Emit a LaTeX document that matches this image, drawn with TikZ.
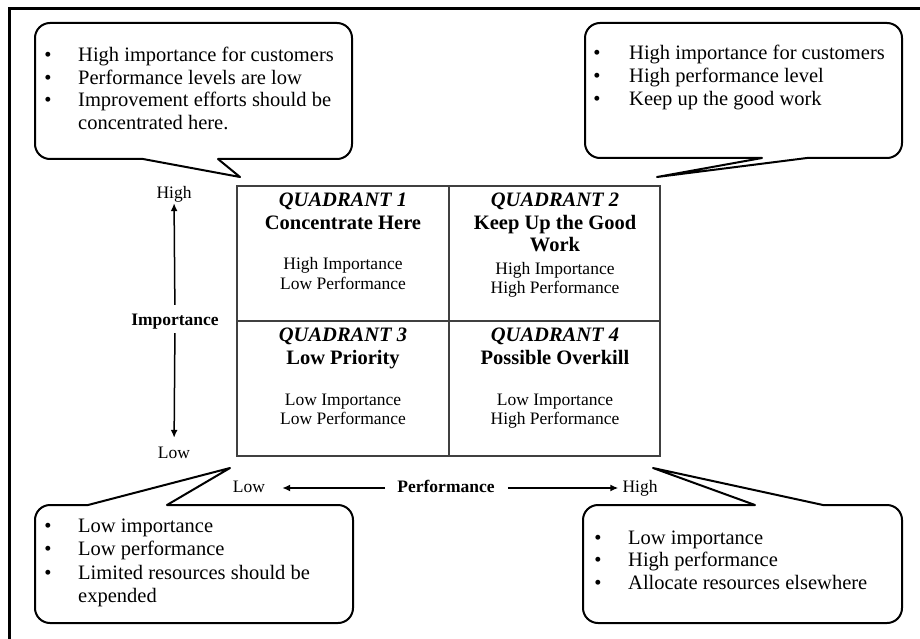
\documentclass[tikz,border=0pt]{standalone}
\usepackage{fontspec}
\setmainfont{Liberation Serif}
\usetikzlibrary{arrows.meta}
\begin{document}
\begin{tikzpicture}[x=1pt,y=-1pt,
  callout/.style={draw=black, line width=2pt, fill=white, line join=round},
  gridline/.style={draw=black!75, line width=1.4pt},
  bodytxt/.style={anchor=base west, inner sep=0pt, font=\fontsize{20.5}{22.5}\selectfont},
  bullettxt/.style={anchor=base, inner sep=0pt, font=\fontsize{20.5}{22}\selectfont},
  qtitle/.style={anchor=base, inner sep=0pt, font=\fontsize{20.5}{22}\selectfont\bfseries\itshape},
  qhead/.style={anchor=base, inner sep=0pt, font=\fontsize{20.5}{22}\selectfont\bfseries},
  qline/.style={anchor=base, inner sep=0pt, font=\fontsize{17.5}{19}\selectfont},
  axislbl/.style={anchor=base, inner sep=0pt, text height=12pt, text depth=4pt, font=\fontsize{17.5}{19}\selectfont},
  axisarrow/.style={line width=1.5pt, -{Latex[length=8pt,width=7pt]}},
]
\useasboundingbox (0,0) rectangle (920,639);
\fill[white] (0,0) rectangle (920,639);

% outer frame
\draw[line width=3pt] (9,9) rectangle (940,660);

% importance / performance grid
\draw[gridline] (237,186) rectangle (660,456);
\draw[gridline] (449,186) -- (449,456);
\draw[gridline] (237,321) -- (660,321);

% quadrant 1
\node[qtitle] (q1t) at (343,206.5) {QUADRANT 1};
\node[qhead]  (q1h) at (343,229) {Concentrate Here};
\node[qline]  (q1a) at (343,269) {High Importance};
\node[qline]  (q1b) at (343,289) {Low Performance};
% quadrant 2
\node[qtitle] (q2t) at (555,206.5) {QUADRANT 2};
\node[qhead]  (q2h) at (555,229) {Keep Up the Good};
\node[qhead]  (q2w) at (555,251.5) {Work};
\node[qline]  (q2a) at (555,274) {High Importance};
\node[qline]  (q2b) at (555,293) {High Performance};
% quadrant 3
\node[qtitle] (q3t) at (343,341.5) {QUADRANT 3};
\node[qhead]  (q3h) at (343,364.5) {Low Priority};
\node[qline]  (q3a) at (343,405) {Low Importance};
\node[qline]  (q3b) at (343,424) {Low Performance};
% quadrant 4
\node[qtitle] (q4t) at (555,341.5) {QUADRANT 4};
\node[qhead]  (q4h) at (555,364.5) {Possible Overkill};
\node[qline]  (q4a) at (555,405) {Low Importance};
\node[qline]  (q4b) at (555,424) {High Performance};

% vertical axis
\node[axislbl] (impHigh) at (174,198) {High};
\node[axislbl, font=\fontsize{17.5}{19}\selectfont\bfseries] (imp) at (175,325) {Importance};
\node[axislbl] (impLow) at (174,458) {Low};
\draw[axisarrow, shorten <=8pt, shorten >=1pt] (imp) -- (impHigh);
\draw[axisarrow, shorten <=4pt, shorten >=8pt] (imp) -- (impLow);

% horizontal axis
\node[axislbl] (perfLow) at (249,492) {Low};
\node[axislbl, font=\fontsize{17.5}{19}\selectfont\bfseries] (perf) at (446,492) {Performance};
\node[axislbl] (perfHigh) at (640,492) {High};
\draw[axisarrow, shorten <=12pt, shorten >=17pt] (perf) -- (perfLow);
\draw[axisarrow, shorten <=13pt, shorten >=4pt] (perf) -- (perfHigh);

% callout, top left
\draw[callout] (35,90) [rounded corners=15pt] -- (35,23) -- (352,23) -- (352,159)
  [sharp corners] -- (218,159) -- (240,177) -- (143,159)
  [rounded corners=15pt] -- (35,159) -- cycle;
\node[bullettxt] (c1b1) at (48,62) {•};
\node[bullettxt] (c1b2) at (48,84.5) {•};
\node[bullettxt] (c1b3) at (48,107) {•};
\node[bodytxt] (c1l1) at (78,62) {High importance for customers};
\node[bodytxt] (c1l2) at (78,84.5) {Performance levels are low};
\node[bodytxt] (c1l3) at (78,107) {Improvement efforts should be};
\node[bodytxt] (c1l4) at (78,129.5) {concentrated here.};

% callout, top right
\draw[callout] (585,90) [rounded corners=15pt] -- (585,23) -- (902,23) -- (902,158)
  [sharp corners] -- (807,158) -- (657,177) -- (762,158)
  [rounded corners=15pt] -- (585,158) -- cycle;
\node[bullettxt] (c2b1) at (597,60) {•};
\node[bullettxt] (c2b2) at (597,83) {•};
\node[bullettxt] (c2b3) at (597,106) {•};
\node[bodytxt] (c2l1) at (629,60) {High importance for customers};
\node[bodytxt] (c2l2) at (629,83) {High performance level};
\node[bodytxt] (c2l3) at (629,106) {Keep up the good work};

% callout, bottom left
\draw[callout] (35,565) [rounded corners=15pt] -- (35,505)
  [sharp corners] -- (88,505) -- (230,468) -- (167,505)
  [rounded corners=15pt] -- (353,505) -- (353,623) -- (35,623) -- cycle;
\node[bullettxt] (c3b1) at (48,532) {•};
\node[bullettxt] (c3b2) at (48,555) {•};
\node[bullettxt] (c3b3) at (48,579) {•};
\node[bodytxt] (c3l1) at (78,532) {Low importance};
\node[bodytxt] (c3l2) at (78,555) {Low performance};
\node[bodytxt] (c3l3) at (78,579) {Limited resources should be};
\node[bodytxt] (c3l4) at (78,602) {expended};

% callout, bottom right
\draw[callout] (583,565) [rounded corners=15pt] -- (583,505)
  [sharp corners] -- (755,505) -- (653,468) -- (823,505)
  [rounded corners=15pt] -- (902,505) -- (902,623) -- (583,623) -- cycle;
\node[bullettxt] (c4b1) at (598,544) {•};
\node[bullettxt] (c4b2) at (598,566) {•};
\node[bullettxt] (c4b3) at (598,589) {•};
\node[bodytxt] (c4l1) at (628,544) {Low importance};
\node[bodytxt] (c4l2) at (628,566) {High performance};
\node[bodytxt] (c4l3) at (628,589) {Allocate resources elsewhere};
\end{tikzpicture}
\end{document}
